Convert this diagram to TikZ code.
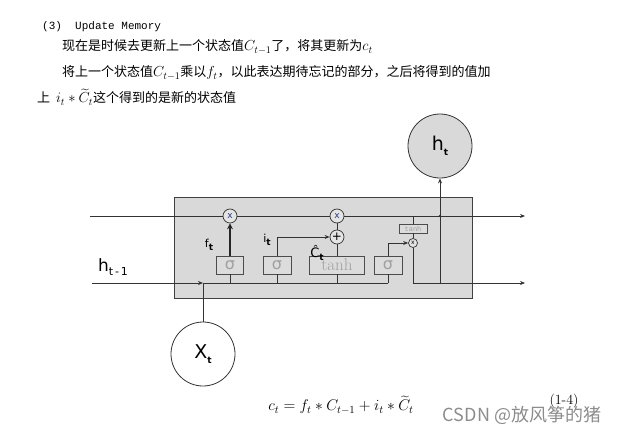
\documentclass[tikz,border=0pt]{standalone}
\usepackage{fix-cm}
\usepackage{fontspec}
\usepackage{amsmath}
\newfontfamily\cjk{Noto Sans CJK SC}
\newfontfamily\dv{DejaVu Sans}
\newfontfamily\mono{Liberation Mono}
\usetikzlibrary{arrows.meta}
\definecolor{boxgray}{RGB}{217,217,217}
\definecolor{gatefill}{RGB}{220,220,220}
\definecolor{gatetext}{RGB}{160,160,160}
\definecolor{opfill}{RGB}{228,228,228}
\definecolor{xblue}{RGB}{40,60,130}
\definecolor{wm}{RGB}{140,140,140}
\newcommand{\dsub}[1]{\raisebox{-0.25em}{\fontsize{9}{9}\selectfont\bfseries #1}}
\newcommand{\mth}[1]{{\fontsize{14.5}{15}\selectfont$#1$}}
\tikzset{
  mainbox/.style={draw=black!75, fill=boxgray, line width=0.9pt},
  gate/.style={draw=black!70, fill=gatefill, line width=0.8pt, minimum height=18pt, inner sep=0pt, text=gatetext, font=\dv\fontsize{16}{16}\selectfont},
  opc/.style={circle, draw=black!80, fill=opfill, minimum size=14pt, inner sep=0pt, line width=0.7pt, font=\dv\fontsize{9}{9}\selectfont},
  wire/.style={draw=black!80, line width=0.8pt},
  bigc/.style={circle, draw=black!80, minimum size=64pt, inner sep=0pt, line width=0.8pt, font=\dv\fontsize{19}{19}\selectfont},
  lbl/.style={inner sep=0pt, font=\dv\fontsize{11}{11}\selectfont},
  txt/.style={anchor=west, inner sep=0pt, font=\cjk\fontsize{13}{15}\selectfont},
  arr/.style={-{Stealth[length=5pt,width=4pt]}},
}
\begin{document}
\begin{tikzpicture}[x=1pt,y=-1pt]
\useasboundingbox (0,0) rectangle (623,436);
% text at top
\node[anchor=west, inner sep=0pt, font=\mono\fontsize{11}{13}\selectfont] (t1) at (42,27) {(3)\ \ Update Memory};
\node[txt] (t2) at (62,47) {现在是时候去更新上一个状态值\mth{C_{t-1}}了，将其更新为\mth{c_t}};
\node[txt] (t3) at (62,73) {将上一个状态值\mth{C_{t-1}}乘以\mth{f_t}，以此表达期待忘记的部分，之后将得到的值加};
\node[txt] (t4) at (37,97) {上\ \ \mth{i_t*\widetilde{C}_t}这个得到的是新的状态值};
% main box
\draw[mainbox] (174,197) rectangle (472,298);
% gates
\node[gate, minimum width=27pt] (g1) at (230,265) {σ};
\node[gate, minimum width=28pt] (g2) at (277,265) {σ};
\node[gate, minimum width=55pt, font=\fontsize{17}{17}\selectfont] (g3) at (337,265) {tanh};
\node[gate, minimum width=28pt] (g4) at (388,265) {σ};
% operators
\node[opc, text=xblue] (m1) at (230,216) {x};
\node[opc, text=xblue] (m2) at (337,216) {x};
\node[opc, font=\dv\fontsize{12}{12}\selectfont] (p1) at (337,237) {+};
\node[draw=black!70, fill=gatefill, line width=0.7pt, minimum width=28pt, minimum height=9pt, inner sep=0pt, text=gatetext, font=\mono\fontsize{7}{7}\selectfont] (th) at (413,228.5) {tanh};
\node[circle, draw=black!80, fill=opfill, minimum size=9pt, inner sep=0pt, line width=0.7pt, font=\dv\fontsize{6}{6}\selectfont] (m3) at (413,243) {x};
% big circles
\node[bigc, fill=boxgray] (ht) at (440,146) {h\dsub{t}};
\node[bigc, fill=white] (xt) at (203,354) {X\dsub{t}};
% coordinates
\coordinate (cin) at (90,216);
\coordinate (cout) at (525,216);
\coordinate (hin) at (92,283);
\coordinate (hj) at (203,283);
\coordinate (hend) at (388,283);
\coordinate (oc) at (413,283);
\coordinate (hout) at (525,283);
\coordinate (hv) at (440,283);
\coordinate (cj) at (440,216);
\coordinate (thc) at (413,216);
% cell state line
\draw[wire] (cin) -- (m1) -- (m2);
\draw[wire, arr] (m2) -- (cout);
% forget gate
\draw[line width=2pt, draw=black!85, -{Stealth[length=6pt,width=6pt]}] (g1) -- (m1);
% input gate
\draw[wire, arr] (g2.north) |- (p1);
\draw[wire] (g3) -- (p1);
\draw[wire] (p1) -- (m2);
% output gate
\draw[wire, arr] (g4.north) |- (m3);
\draw[wire] (thc) -- (th);
\draw[wire] (th) -- (m3);
\draw[wire] (m3) -- (oc);
\draw[wire, arr] (oc) -- (hout);
\draw[wire, arr] (hv) -- (ht);
\fill[black!80] (cj) circle (1.4pt);
% hidden input line
\draw[wire] (xt) -- (hj);
\draw[wire, -{Stealth[length=5pt,width=4pt]}] (hin) -- (hj);
\draw[wire] (hj) -- (hend);
\draw[wire] (g1) -- (g1 |- hend);
\draw[wire] (g2) -- (g2 |- hend);
\draw[wire] (g3) -- (g3 |- hend);
\draw[wire] (g4) -- (hend);
% labels
\node[lbl] (lf) at (209,245) {f\dsub{t}};
\node[lbl] (li) at (267,240) {i\dsub{t}};
\node[lbl, font=\dv\fontsize{13}{13}\selectfont] (lc) at (317,253) {Ĉ\dsub{t}};
\node[inner sep=0pt, font=\dv\fontsize{17}{17}\selectfont] (lh) at (113,267) {h\raisebox{-0.25em}{\fontsize{11}{11}\selectfont t\,-\,1}};
% equation
\node[inner sep=0pt, font=\fontsize{15.5}{17}\selectfont] (eq) at (341,405) {$c_t=f_t*C_{t-1}+i_t*\widetilde{C}_t$};
\node[inner sep=0pt, font=\fontsize{14}{16}\selectfont] (en) at (564,401) {(1-4)};
\node[inner sep=0pt, text=wm, font=\cjk\fontsize{18}{20}\selectfont] (wmk) at (522,415) {CSDN @放风筝的猪};
\end{tikzpicture}
\end{document}
